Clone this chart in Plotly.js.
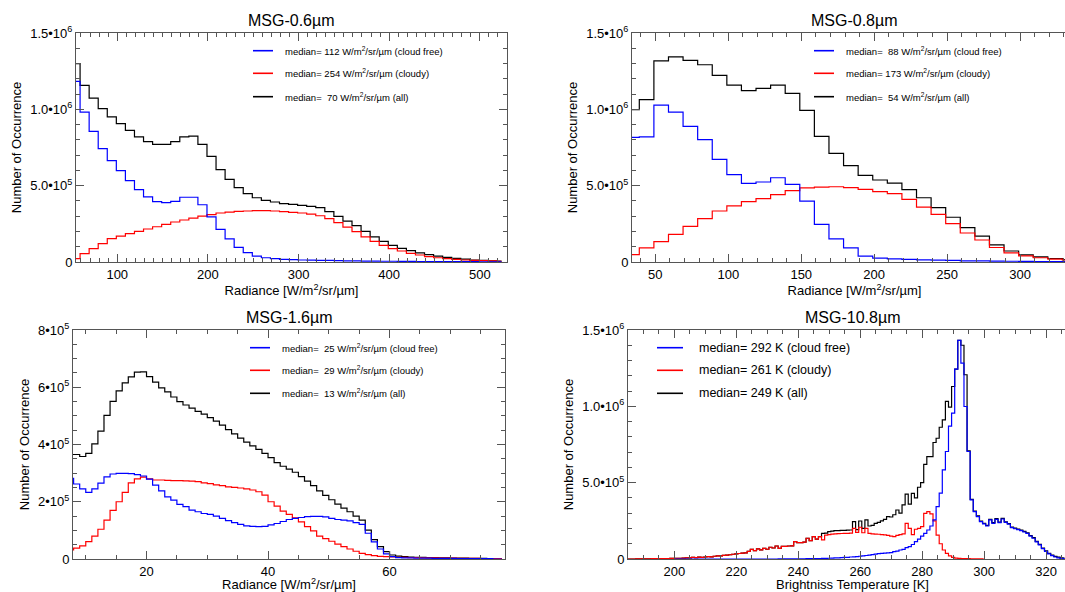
<!DOCTYPE html>
<html><head><meta charset="utf-8">
<script src="https://cdn.plot.ly/plotly-3.0.1.min.js"></script>
<style>html,body{margin:0;padding:0;overflow:hidden;background:#fff}#chart{width:1078px;height:592px}</style>
</head><body><div id="chart"></div>
<script>
// ---------------- DATA (counts in thousands) ----------------
// MSG 0.6 um : bin centres start 54, step 10 W/m2/sr/um
const ch06Start = 54, ch06Step = 10;
const ch06CloudFree = [1183,982,856,742,664,598,533,474,426,395,389,397,424,424,375,295,214,151,96,61,39,28,22,17,15,13,12,11,10,9,8,7,6,6,5,5,4,4,3,3,3,2,2,2,2,1,1,1];
const ch06Cloudy    = [22,55,87,120,153,170,186,201,216,231,247,262,275,288,301,310,321,327,332,334,336,336,334,330,325,321,314,303,284,258,229,199,164,135,109,87,72,57,46,35,28,22,17,13,11,9,7,5];
const ch06All       = [1299,1157,1074,1004,950,906,862,819,788,771,771,788,819,825,771,692,605,541,487,448,421,404,393,382,378,371,365,356,330,299,268,238,201,164,135,109,89,75,60,48,38,30,24,19,13,10,8,6];

// MSG 0.8 um : bin centres start 34, step 10
const ch08Start = 34, ch08Step = 10;
const ch08CloudFree = [816,819,1028,982,888,801,672,572,515,524,552,509,399,247,151,92,39,26,20,17,14,12,10,8,7,6,5,4,3,3,2];
const ch08Cloudy    = [48,92,133,181,234,284,334,367,395,415,441,467,485,491,493,487,476,461,448,410,360,312,251,190,144,95,60,40,28,19,13];
const ch08All       = [998,1063,1318,1343,1321,1292,1222,1159,1122,1137,1159,1105,993,823,712,631,568,537,517,474,421,356,293,225,170,112,72,47,33,23,16];

// MSG 1.6 um : bin centres start 7.5, step 1
const ch16Start = 7.5, ch16Step = 1;
const ch16CloudFree = [282,262,245,233,245,265,287,297,299,299,298,295,290,279,258,238,217,206,191,183,171,165,159,156,150,142,134,127,121,116,114,113,114,119,124,131,138,142,145,148,149,149,147,142,138,136,133,127,121,90,60,35,18,8,5,4,4,3,3,3,2,2,2,2,1,1,1,1,1,1,0,0];
const ch16Cloudy    = [32,38,46,61,80,104,136,170,200,233,266,280,286,280,276,276,275,274,274,273,272,270,266,263,259,256,252,250,248,245,241,235,223,200,185,167,156,144,130,113,98,80,71,62,52,43,35,27,20,15,12,9,8,7,6,6,5,5,4,4,4,3,3,3,2,2,2,2,1,1,1,1];
const ch16All       = [365,365,358,369,402,447,502,551,587,615,636,653,654,637,618,598,584,566,550,538,527,516,506,494,482,468,452,437,422,408,395,383,369,354,337,324,314,303,288,272,256,238,222,207,192,178,165,150,136,101,68,43,26,14,10,8,7,6,6,5,5,4,4,3,3,3,2,2,2,1,1,1];

// MSG 10.8 um : brightness temperature bins of 1 K
const ch108CloudFreeStart = 200, ch108CloudyStart = 185, ch108AllStart = 185, ch108Step = 1;
const ch108CloudFree = [0,0,0,0,0,0,0,0,0,0, 0,0,0,0,0,0,0,0,0,0, 0,0,0,0,0,0,0,0,0,0,
  0,0,0,0,1,1,1,1,1,1, 1,1,1,2,2,2,3,3,4,4, 5,6,7,8,9,10,11,13,14,16, 18,20,23,26,29,32,35,37,38,40,
  42,48,52,59,63,75,81,95,114,130, 150,168,190,216,256,343,431,584,704,870, 955,1244,1432,1283,999,704,387,310,278,245,
  230,216,256,234,260,238,262,240,228,205, 198,192,186,177,168,150,136,112,92,68, 50,33,22,13,8,4,2];
const ch108Cloudy = [0,0,0,1,1,1,1,1,2,2,2,3,3,3,4, 4,5,5,6,7,8,10,9,12,11, 13,16,14,18,20,21,24,26,28,31,
  33,36,38,40,50,63,55,66,60,70, 64,77,72,85,70,83,83,85,86,114, 107,107,110,136,121,146,130,146,125,157,
  160,163,165,166,167,168,168,170,201,175, 208,172,201,168,165,163,162,160,158,155, 150,146,155,160,165,234,200,160,195,201,
  212,299,310,295,250,157,100,59,37,20, 11,6,4,3,2,2,1,1,1,1,0];
const ch108All = [0,0,0,1,1,1,1,1,2,2,2,3,3,3,4, 4,5,5,6,7,8,10,9,12,11, 13,16,14,18,20,21,24,26,28,31,
  33,36,38,40,50,63,55,66,60,70, 64,77,72,85,70,83,83,85,86,114, 107,107,110,136,121,146,130,146,
  168,170, 179,183,186,186,187,188,189,190,245,192, 249,200,256,216,220,234,240,250,260,278,
  275,290,321,300,355,425,360,430,400,470, 500,620,671,671,763,791,863,911,1032,995, 1130,1244,1432,1400,1207,708,
  391,314,282,249,234,220,260,238,264,242,266,244,232,209,202,196,190,181,172,154,140,116,96,72,54,37,26,17,12,8,6];

const legend06 = ['median= 112 W/m<sup>2</sup>/sr/µm (cloud free)','median= 254 W/m<sup>2</sup>/sr/µm (cloudy)','median=\u00a0 70 W/m<sup>2</sup>/sr/µm (all)'];
const legend08 = ['median=\u00a0 88 W/m<sup>2</sup>/sr/µm (cloud free)','median= 173 W/m<sup>2</sup>/sr/µm (cloudy)','median=\u00a0 54 W/m<sup>2</sup>/sr/µm (all)'];
const legend16 = ['median=\u00a0 25 W/m<sup>2</sup>/sr/µm (cloud free)','median=\u00a0 29 W/m<sup>2</sup>/sr/µm (cloudy)','median=\u00a0 13 W/m<sup>2</sup>/sr/µm (all)'];
const legend108 = ['median= 292 K (cloud free)','median= 261 K (cloudy)','median= 249 K (all)'];
const titles = ['MSG-0.6µm','MSG-0.8µm','MSG-1.6µm','MSG-10.8µm'];

// ---------------- HELPERS ----------------
const W = 1078, H = 592;
const px = x => x / W, py = y => 1 - y / H;
function centers(start, step, n){ const a=[]; for(let i=0;i<n;i++) a.push(+(start+i*step).toFixed(3)); return a; }
function counts(arr){ return arr.map(v => v*1000); }
const COL = {cf:'#0000ff', cl:'#ff0000', all:'#000000'};
function tr(start, step, vals, color, xa, ya){
  return {type:'scatter', mode:'lines', x:centers(start,step,vals.length), y:counts(vals),
    line:{shape:'hvh', color:color, width:1.2}, xaxis:xa, yaxis:ya, showlegend:false, hoverinfo:'skip'};
}
const data = [
  tr(ch06Start,ch06Step,ch06All,COL.all,'x','y'),
  tr(ch06Start,ch06Step,ch06Cloudy,COL.cl,'x','y'),
  tr(ch06Start,ch06Step,ch06CloudFree,COL.cf,'x','y'),
  tr(ch08Start,ch08Step,ch08All,COL.all,'x2','y2'),
  tr(ch08Start,ch08Step,ch08Cloudy,COL.cl,'x2','y2'),
  tr(ch08Start,ch08Step,ch08CloudFree,COL.cf,'x2','y2'),
  tr(ch16Start,ch16Step,ch16All,COL.all,'x3','y3'),
  tr(ch16Start,ch16Step,ch16Cloudy,COL.cl,'x3','y3'),
  tr(ch16Start,ch16Step,ch16CloudFree,COL.cf,'x3','y3'),
  tr(ch108AllStart,ch108Step,ch108All,COL.all,'x4','y4'),
  tr(ch108CloudyStart,ch108Step,ch108Cloudy,COL.cl,'x4','y4'),
  tr(ch108CloudFreeStart,ch108Step,ch108CloudFree,COL.cf,'x4','y4')
];

const AX = '#555';
function common(){
  return {ticks:'inside', ticklen:8, tickwidth:1, tickcolor:AX, showline:true, linecolor:AX, linewidth:1,
    mirror:'allticks', showgrid:false, zeroline:false, tickfont:{size:13, color:'#000'}};
}
function xax(d, range, tickvals, mdt, title, anchor){
  return Object.assign(common(), {domain:[px(d[0]),px(d[1])], range:range, anchor:anchor,
    tickmode:'array', tickvals:tickvals, ticktext:tickvals.map(String),
    minor:{tickmode:'linear', tick0:0, dtick:mdt, ticks:'inside', ticklen:4, tickcolor:AX, showgrid:false},
    title:{text:title, font:{size:13, color:'#000'}, standoff:0}});
}
function yax(d, range, tickvals, ticktext, mdt, anchor){
  return Object.assign(common(), {domain:[py(d[1]),py(d[0])], range:range, anchor:anchor,
    tickmode:'array', tickvals:tickvals, ticktext:ticktext,
    minor:{tickmode:'linear', tick0:0, dtick:mdt, ticks:'inside', ticklen:4, tickcolor:AX, showgrid:false},
    title:{text:'Number of Occurrence', font:{size:13, color:'#000'}, standoff:5}});
}
const radTitle = 'Radiance [W/m<sup>2</sup>/sr/µm]';
const yT15 = [0,5e5,1e6,1.5e6], yL15 = ['0','5.0•10<sup>5</sup>','1.0•10<sup>6</sup>','1.5•10<sup>6</sup>'];
const P = [ {x:[76,507], y:[33,262]}, {x:[632,1077], y:[33,262]}, {x:[73,505], y:[330,559]}, {x:[628,1077], y:[330,559]} ];

const layout = {
  width:W, height:H, margin:{l:0,r:0,t:0,b:0}, paper_bgcolor:'#fff', plot_bgcolor:'#fff',
  font:{family:'Liberation Sans, Arial, Helvetica, sans-serif', color:'#000', size:13},
  showlegend:false,
  xaxis: xax(P[0].x,[54.5,530],[100,200,300,400,500],10,radTitle,'y'),
  yaxis: yax(P[0].y,[0,1.5e6],yT15,yL15,1e5,'x'),
  xaxis2: xax(P[1].x,[34,339],[50,100,150,200,250,300],10,radTitle,'y2'),
  yaxis2: yax(P[1].y,[0,1.5e6],yT15,yL15,1e5,'x2'),
  xaxis3: xax(P[2].x,[7.9,79],[20,40,60],5,radTitle,'y3'),
  yaxis3: yax(P[2].y,[0,8e5],[0,2e5,4e5,6e5,8e5],['0','2•10<sup>5</sup>','4•10<sup>5</sup>','6•10<sup>5</sup>','8•10<sup>5</sup>'],5e4,'x3'),
  xaxis4: xax(P[3].x,[185,330],[200,220,240,260,280,300,320],5,'Brightniss Temperature [K]','y4'),
  yaxis4: yax(P[3].y,[0,1.5e6],yT15,yL15,1e5,'x4'),
  annotations:[], shapes:[]
};
// panel titles
const titleY = [20.7, 20.7, 317, 317];
titles.forEach((t,i)=>{
  layout.annotations.push({text:t, xref:'paper', yref:'paper', x:px((P[i].x[0]+P[i].x[1])/2), y:py(titleY[i]),
    xanchor:'center', yanchor:'middle', showarrow:false, font:{size:16, color:'#000'}});
});
// legends
const legs = [
  {texts:legend06, x0:253, x1:273, tx:283, ys:[50.7,73.3,96.7], fs:9.5},
  {texts:legend08, x0:814, x1:834, tx:844, ys:[50.7,73.3,96.7], fs:9.5},
  {texts:legend16, x0:250, x1:270, tx:280, ys:[347.7,370.3,393.3], fs:9.5},
  {texts:legend108, x0:657, x1:683, tx:697, ys:[347.7,370.3,393.3], fs:12.5}
];
const legCols = [COL.cf, COL.cl, COL.all];
legs.forEach(L=>{
  L.texts.forEach((t,k)=>{
    layout.shapes.push({type:'line', xref:'paper', yref:'paper', x0:px(L.x0), x1:px(L.x1), y0:py(L.ys[k]), y1:py(L.ys[k]),
      line:{color:legCols[k], width:1.6}});
    layout.annotations.push({text:t, xref:'paper', yref:'paper', x:px(L.tx), y:py(L.ys[k]), xanchor:'left', yanchor:'middle',
      showarrow:false, font:{size:L.fs, color:'#000'}});
  });
});
Plotly.newPlot('chart', data, layout, {staticPlot:true, displayModeBar:false});
</script></body></html>
